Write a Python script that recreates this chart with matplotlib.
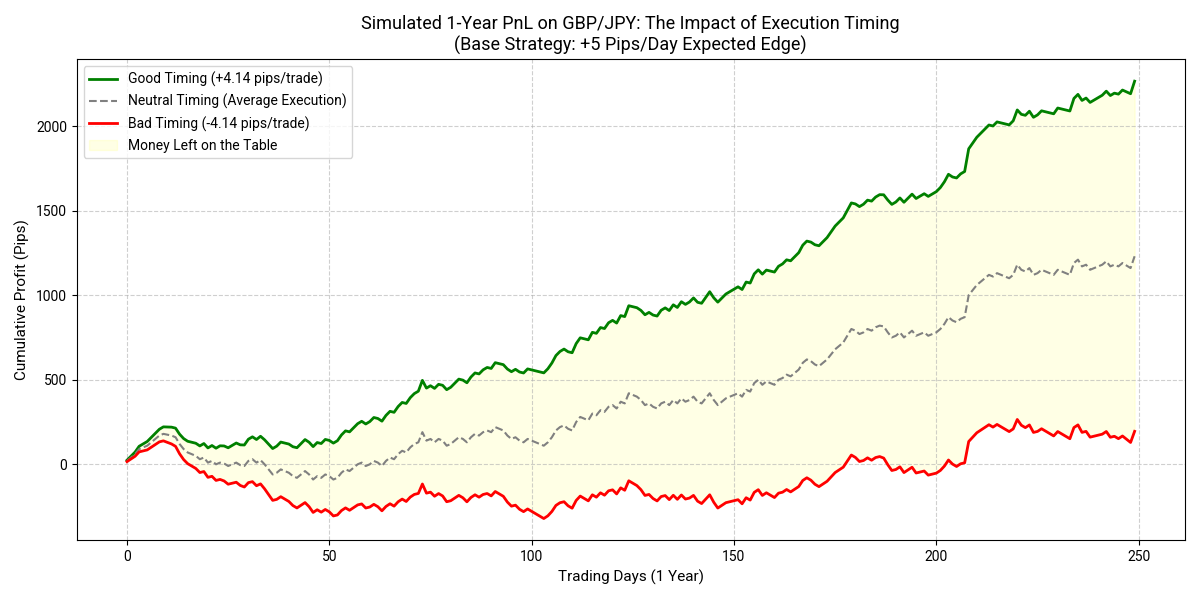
import matplotlib
matplotlib.use("Agg")
import matplotlib.pyplot as plt
import numpy as np

plt.rcParams['font.family'] = ['Roboto', 'DejaVu Sans']

# cumulative pnl of neutral execution
neutral = [20, 40, 60, 90, 100, 110, 130, 150, 170, 180,
           175, 170, 160, 120, 90, 70, 60, 50, 30, 40,
           10, 20, 0, 10, 5, -10, 0, 10, -5, -10,
           20, 30, 10, 25, 0, -30, -60, -50, -30, -40,
           -50, -70, -80, -60, -40, -60, -90, -70, -80, -60,
           -70, -90, -80, -50, -30, -40, -20, 0, 10, -10,
           0, 20, 10, -10, 20, 40, 30, 60, 80, 70,
           100, 120, 130, 190, 140, 150, 130, 150, 140, 110,
           120, 140, 160, 150, 130, 160, 180, 170, 190, 200,
           190, 220, 210, 200, 170, 150, 160, 140, 130, 150,
           140, 130, 120, 110, 130, 160, 200, 220, 230, 210,
           200, 250, 280, 270, 260, 300, 290, 320, 310, 340,
           350, 330, 370, 360, 420, 410, 400, 380, 350, 360,
           340, 330, 360, 370, 350, 380, 360, 390, 370, 380,
           400, 370, 360, 390, 420, 380, 350, 370, 390, 400,
           410, 420, 400, 440, 430, 480, 500, 470, 490, 480,
           470, 500, 510, 530, 520, 540, 560, 600, 620, 610,
           590, 580, 600, 620, 650, 680, 700, 720, 760, 800,
           790, 770, 780, 800, 790, 810, 820, 815, 780, 750,
           760, 780, 750, 770, 790, 760, 770, 780, 760, 770,
           780, 800, 830, 870, 850, 840, 860, 870, 1000, 1030,
           1060, 1080, 1100, 1120, 1110, 1130, 1120, 1110, 1100, 1120,
           1180, 1150, 1140, 1160, 1120, 1130, 1150, 1140, 1130, 1120,
           1150, 1140, 1130, 1120, 1190, 1210, 1170, 1180, 1150, 1160,
           1170, 1180, 1200, 1170, 1180, 1170, 1190, 1175, 1160, 1230]

edge = 4.14  # pips per trade, from legend
days = np.arange(len(neutral))
neutral = np.array(neutral)
good = neutral + edge * (days + 1)
bad = neutral - edge * (days + 1)

fig, ax = plt.subplots(figsize=(12, 6), dpi=100)
ax.plot(days, good, color='green', lw=2, label='Good Timing (+4.14 pips/trade)')
ax.plot(days, neutral, color='gray', lw=1.5, ls='--', label='Neutral Timing (Average Execution)')
ax.plot(days, bad, color='red', lw=2, label='Bad Timing (-4.14 pips/trade)')
ax.fill_between(days, bad, good, color='yellow', alpha=0.1, label='Money Left on the Table')

ax.set_title('Simulated 1-Year PnL on GBP/JPY: The Impact of Execution Timing\n(Base Strategy: +5 Pips/Day Expected Edge)', fontsize=13)
ax.set_xlabel('Trading Days (1 Year)', fontsize=11)
ax.set_ylabel('Cumulative Profit (Pips)', fontsize=11)
ax.grid(True, ls='--', alpha=0.6)
ax.legend(loc='upper left')
plt.tight_layout()
plt.savefig('out.png')
